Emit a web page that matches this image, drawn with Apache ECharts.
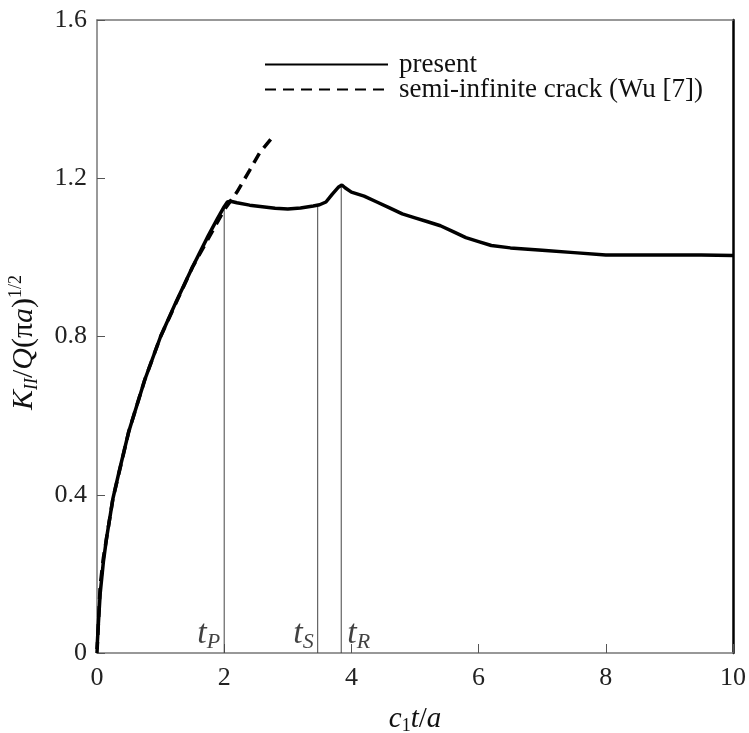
<!DOCTYPE html>
<html>
<head>
<meta charset="utf-8">
<script src="https://cdn.jsdelivr.net/npm/echarts@6/dist/echarts.min.js"></script>
<style>
    html, body { margin: 0; padding: 0; background: #fff; }
    #chart { width: 749px; height: 733px; }
</style>
</head>
<body>
<div id="chart"></div>
<script>
// present solution (t, K)
var presentT = [0, 0.02, 0.05, 0.1, 0.15, 0.25, 0.35, 0.5, 0.75, 1.0, 1.25, 1.5, 1.75, 1.9, 2.0, 2.05, 2.1, 2.2, 2.4, 2.6, 2.8, 3.0, 3.2, 3.4, 3.5, 3.6, 3.7, 3.8, 3.85, 3.9, 4.0, 4.2, 4.4, 4.6, 4.8, 5.0, 5.2, 5.4, 5.6, 5.8, 6.0, 6.2, 6.5, 7.0, 7.5, 8.0, 8.5, 9.0, 9.5, 10.0];
var presentK = [0.01, 0.07, 0.15, 0.23, 0.29, 0.39, 0.46, 0.56, 0.69, 0.8, 0.89, 0.975, 1.055, 1.1, 1.128, 1.14, 1.142, 1.138, 1.132, 1.128, 1.124, 1.122, 1.125, 1.13, 1.133, 1.14, 1.16, 1.178, 1.183, 1.176, 1.165, 1.155, 1.14, 1.125, 1.11, 1.1, 1.09, 1.08, 1.065, 1.05, 1.04, 1.03, 1.024, 1.018, 1.012, 1.006, 1.006, 1.006, 1.006, 1.005];
// semi-infinite crack (Wu [7])
var wuT = [0, 0.05, 0.1, 0.25, 0.5, 0.75, 1.0, 1.5, 2.0, 2.2, 2.4, 2.56, 2.74];
var wuK = [0, 0.17, 0.24, 0.39, 0.56, 0.69, 0.8, 0.975, 1.12, 1.165, 1.22, 1.265, 1.3];
// wave arrival times and curve values there
var arrivalNames = ['P', 'S', 'R'];
var arrivalT = [2.0, 3.47, 3.84];
var arrivalK = [1.128, 1.133, 1.183];

var serif = '"Liberation Serif", "DejaVu Serif", serif';

function pairs(xs, ys) {
    return xs.map(function (x, i) { return [x, ys[i]]; });
}

var chart = echarts.init(document.getElementById('chart'));

var series = [
    {
        name: 'semi-infinite crack (Wu [7])',
        type: 'line',
        symbol: 'none',
        z: 2,
        lineStyle: { color: '#000', width: 3.5, type: [11, 7] },
        itemStyle: { color: '#000' },
        data: pairs(wuT, wuK)
    },
    {
        name: 'present',
        type: 'line',
        symbol: 'none',
        z: 3,
        lineStyle: { color: '#000', width: 3.5 },
        itemStyle: { color: '#000' },
        data: pairs(presentT, presentK)
    }
];

// thin vertical lines at arrival times
arrivalT.forEach(function (t, i) {
    series.push({
        type: 'line',
        symbol: 'none',
        silent: true,
        z: 1,
        lineStyle: { color: '#444', width: 1 },
        data: [[t, 0], [t, arrivalK[i]]]
    });
});

// t_P, t_S, t_R labels
series.push({
    type: 'scatter',
    symbolSize: 0,
    silent: true,
    data: arrivalT.map(function (t, i) {
        return {
            value: [t, 0.045],
            label: {
                show: true,
                position: i == 2 ? 'right' : 'left',
                distance: i == 2 ? 6 : 4,
                formatter: '{t|t}{s|' + arrivalNames[i] + '}',
                rich: {
                    t: { fontFamily: serif, fontStyle: 'italic', fontSize: 34, color: '#111', lineHeight: 36, verticalAlign: 'top' },
                    s: { fontFamily: serif, fontStyle: 'italic', fontSize: 22, color: '#111', lineHeight: 22, verticalAlign: 'bottom' }
                }
            }
        };
    })
});

var option = {
    animation: false,
    backgroundColor: '#fff',
    grid: { left: 97, right: 16, top: 20, bottom: 80, outerBoundsMode: 'none' },
    legend: {
        orient: 'vertical',
        left: 259,
        top: 46,
        itemWidth: 123,
        itemHeight: 14,
        itemGap: -2,
        data: ['present', 'semi-infinite crack (Wu [7])'],
        itemStyle: { opacity: 0 },
        textStyle: { fontFamily: serif, fontSize: 27, lineHeight: 20, color: '#111', padding: [0, 0, 0, 6] }
    },
    xAxis: [
        {
            type: 'value',
            min: 0,
            max: 10,
            interval: 2,
            name: '{c|c}{sub|1}{c|t}{n|/}{c|a}',
            nameLocation: 'middle',
            nameGap: 52,
            nameTextStyle: {
                rich: {
                    c: { fontFamily: serif, fontStyle: 'italic', fontSize: 29, color: '#111', lineHeight: 30, verticalAlign: 'top' },
                    n: { fontFamily: serif, fontSize: 29, color: '#111', lineHeight: 30, verticalAlign: 'top' },
                    sub: { fontFamily: serif, fontSize: 18, color: '#111', lineHeight: 18, verticalAlign: 'bottom' }
                }
            },
            axisLine: { onZero: false, lineStyle: { color: '#777', width: 1.5 } },
            axisTick: { inside: true, length: 9, lineStyle: { color: '#555', width: 1 } },
            axisLabel: { fontFamily: serif, fontSize: 26, color: '#222', margin: 12 },
            splitLine: { show: false }
        },
        {
            type: 'value',
            position: 'top',
            min: 0,
            max: 10,
            axisLine: { show: true, onZero: false, lineStyle: { color: '#777', width: 1.5 } },
            axisTick: { show: false },
            axisLabel: { show: false },
            splitLine: { show: false }
        }
    ],
    yAxis: [
        {
            type: 'value',
            min: 0,
            max: 1.6,
            interval: 0.4,
            name: '{k|K}{sub|II}{n|/}{k|Q}{n|(π}{k|a}{n|)}{sup|1/2}',
            nameLocation: 'middle',
            nameRotate: 90,
            nameGap: 56,
            nameTextStyle: {
                padding: [0, 12, 0, 0],
                rich: {
                    k: { fontFamily: serif, fontStyle: 'italic', fontSize: 30, color: '#111', lineHeight: 34 },
                    n: { fontFamily: serif, fontSize: 30, color: '#111', lineHeight: 34 },
                    sub: { fontFamily: serif, fontStyle: 'italic', fontSize: 18, color: '#111', lineHeight: 18, verticalAlign: 'bottom' },
                    sup: { fontFamily: serif, fontSize: 18, color: '#111', lineHeight: 18, verticalAlign: 'top' }
                }
            },
            axisLine: { show: true, onZero: false, lineStyle: { color: '#777', width: 1.5 } },
            axisTick: { inside: true, length: 8, lineStyle: { color: '#555', width: 1 } },
            axisLabel: { fontFamily: serif, fontSize: 26, color: '#222', margin: 10 },
            splitLine: { show: false }
        },
        {
            type: 'value',
            position: 'right',
            min: 0,
            max: 1.6,
            axisLine: { show: true, onZero: false, lineStyle: { color: '#000', width: 2.5 } },
            axisTick: { show: false },
            axisLabel: { show: false },
            splitLine: { show: false }
        }
    ],
    series: series
};

chart.setOption(option);
</script>
</body>
</html>
